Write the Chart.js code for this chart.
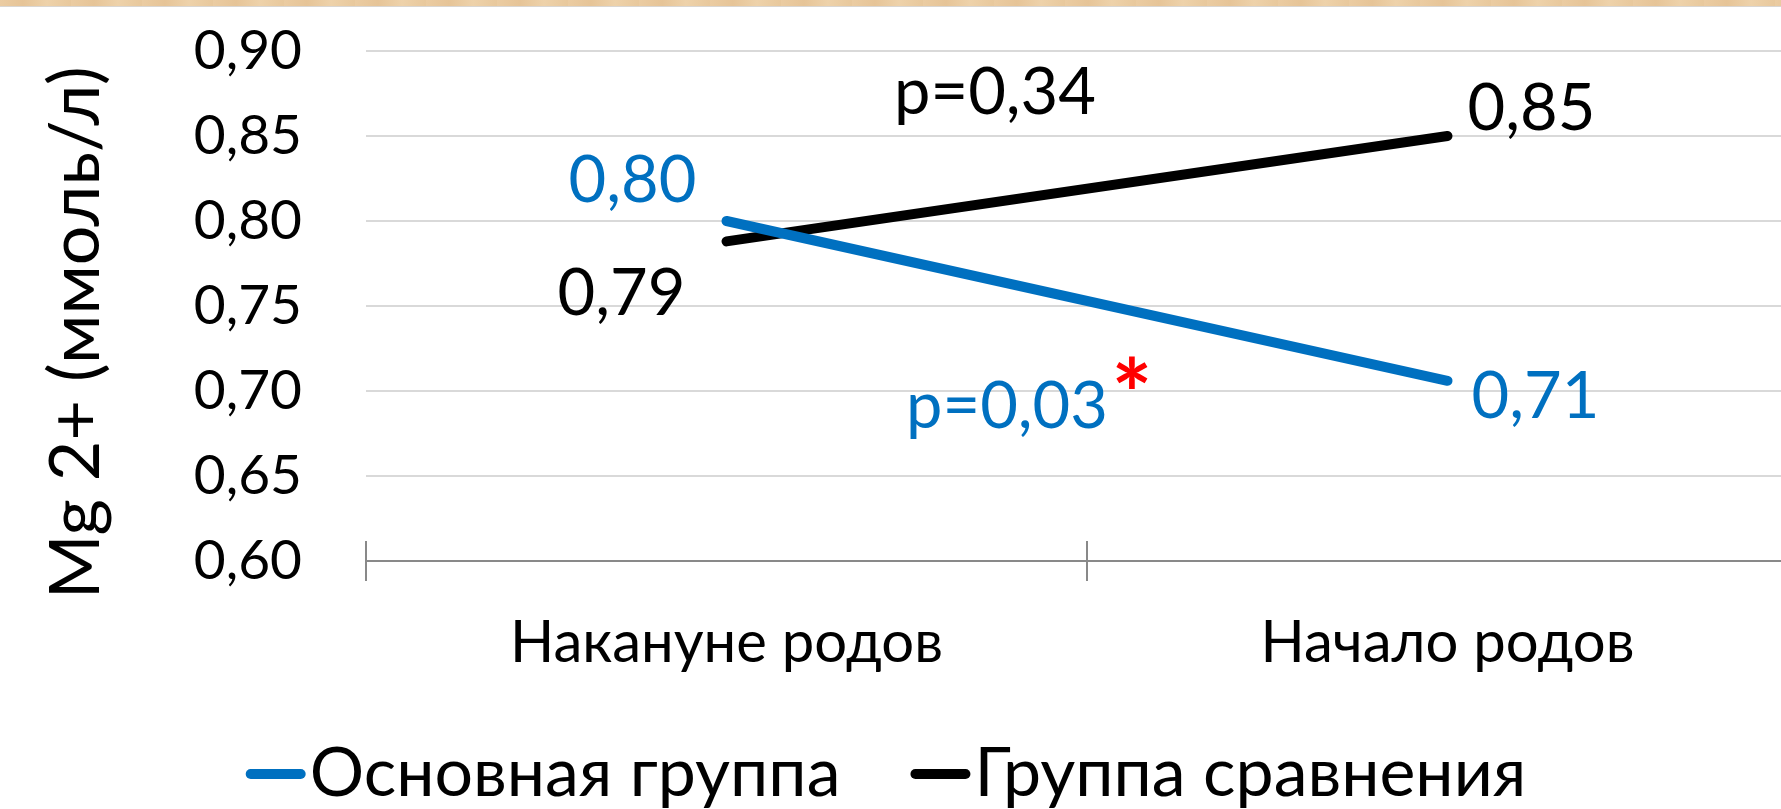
<!DOCTYPE html>
<html>
<head>
<meta charset="utf-8">
<script src="https://cdn.jsdelivr.net/npm/chart.js@4.4.1/dist/chart.umd.min.js"></script>
<style>
  html, body { margin:0; padding:0; overflow:hidden; background:#fff; width:1781px; height:809px; }
  #wrap { position:relative; width:1808px; height:809px; }
  #band { position:absolute; left:0; top:0; width:1781px; height:6px;
          background: repeating-linear-gradient(90deg, #ebcca2 0px, #e6c497 23px, #eed2aa 47px, #e8c89c 71px);
          border-bottom:1px solid #d9d6d2; }
  canvas { display:block; }
</style>
</head>
<body>
<div id="wrap">
  <canvas id="c" width="1808" height="809"></canvas>
  <div id="band"></div>
</div>
<script>
// ---- data ----
const categories = ['Накануне родов', 'Начало родов'];
const seriesNames = ['Основная группа', 'Группа сравнения'];
const mainGroup = [0.80, 0.706];
const comparisonGroup = [0.788, 0.85];
const pValueLabels = ['p=0,03', 'p=0,34'];
const yAxisTitle = 'Mg 2+ (ммоль/л)';
const yMin = 0.60, yMax = 0.90, yStep = 0.05;

// ---- style / layout ----
const FONT = "Lato, 'Open Sans', sans-serif";
const colors = ['#0070C0', '#000000'];
const axisGray = '#898989';
// value label offsets from each point: [dx, baseline dy]
const valueLabelOffsets = [[[-94, -19], [88, 37]], [[-105, 74], [84, -6]]];
// p-value label offsets from each line's midpoint
const pLabelOffsets = [[-80, 127], [-92, -75]];
const asteriskOffset = [45, 128]; // from main group's line midpoint

const fmt = v => Number(v).toFixed(2).replace('.', ',');

const tickUp = {
  id: 'tickUp',
  afterDraw(chart) {
    const x = chart.scales.x, ctx = chart.ctx;
    const n = x.getLabels().length;
    ctx.save();
    ctx.strokeStyle = axisGray; ctx.lineWidth = 2;
    for (let i = 0; i <= n; i++) {
      const px = Math.round(x.getPixelForDecimal(i / n));
      ctx.beginPath(); ctx.moveTo(px, x.top - 20); ctx.lineTo(px, x.top); ctx.stroke();
    }
    ctx.restore();
  }
};

const annotate = {
  id: 'annotate',
  afterDatasetsDraw(chart) {
    const ctx = chart.ctx;
    ctx.save();
    ctx.textAlign = 'center'; ctx.textBaseline = 'alphabetic';
    ctx.font = '65px ' + FONT;
    const mids = [];
    chart.data.datasets.forEach((ds, di) => {
      const pts = chart.getDatasetMeta(di).data;
      ctx.fillStyle = ds.borderColor;
      pts.forEach((pt, i) => {
        const o = valueLabelOffsets[di][i];
        ctx.fillText(fmt(ds.data[i]), pt.x + o[0], pt.y + o[1]);
      });
      const mx = (pts[0].x + pts[pts.length - 1].x) / 2;
      const my = (pts[0].y + pts[pts.length - 1].y) / 2;
      mids.push([mx, my]);
      ctx.fillText(pValueLabels[di], mx + pLabelOffsets[di][0], my + pLabelOffsets[di][1]);
    });
    ctx.fillStyle = '#FF0000';
    ctx.font = 'bold 96px ' + FONT;
    ctx.fillText('*', mids[0][0] + asteriskOffset[0], mids[0][1] + asteriskOffset[1]);
    ctx.restore();
  }
};

const customLegend = {
  id: 'customLegend',
  afterDraw(chart) {
    const ctx = chart.ctx;
    ctx.save();
    ctx.font = '68px ' + FONT;
    ctx.textAlign = 'left'; ctx.textBaseline = 'alphabetic';
    const items = chart.data.datasets.map(ds => ({ label: ds.label, color: ds.borderColor }));
    const lineLen = 60, gap = 4, itemGap = 70;
    const widths = items.map(it => lineLen + gap + ctx.measureText(it.label).width);
    const total = widths.reduce((a, b) => a + b, 0) + itemGap * (items.length - 1);
    let x = 886 - total / 2;
    const yLine = 774, yText = 796;
    items.forEach((it, i) => {
      ctx.strokeStyle = it.color; ctx.lineWidth = 10; ctx.lineCap = 'round';
      ctx.beginPath(); ctx.moveTo(x + 5, yLine); ctx.lineTo(x + lineLen - 5, yLine); ctx.stroke();
      ctx.fillStyle = '#000';
      ctx.fillText(it.label, x + lineLen + gap, yText);
      x += widths[i] + itemGap;
    });
    ctx.restore();
  }
};

new Chart(document.getElementById('c'), {
  type: 'line',
  data: {
    labels: categories,
    datasets: [
      { label: seriesNames[0], data: mainGroup, borderColor: colors[0], backgroundColor: colors[0],
        borderWidth: 10, borderCapStyle: 'round', pointRadius: 0, tension: 0 },
      { label: seriesNames[1], data: comparisonGroup, borderColor: colors[1], backgroundColor: colors[1],
        borderWidth: 10, borderCapStyle: 'round', pointRadius: 0, tension: 0 }
    ]
  },
  options: {
    responsive: false,
    animation: false,
    devicePixelRatio: 1,
    layout: { padding: { top: 51, left: 0, right: 0, bottom: 0 } },
    plugins: { legend: { display: false }, tooltip: { enabled: false } },
    scales: {
      x: {
        type: 'category',
        offset: true,
        grid: { display: true, drawOnChartArea: false, drawTicks: true, tickLength: 20, offset: true,
                color: axisGray, lineWidth: 2 },
        border: { display: true, color: axisGray, width: 2 },
        ticks: { font: { family: FONT, size: 58 }, color: '#000', padding: 27, maxRotation: 0, autoSkip: false },
        afterFit(s) { s.height = 248; s.paddingLeft = 0; s.paddingRight = 0; }
      },
      y: {
        min: yMin, max: yMax,
        ticks: { stepSize: yStep, font: { family: FONT, size: 55 }, color: '#000', padding: 64,
                 callback: v => fmt(v) },
        grid: { color: '#D9D9D9', lineWidth: 2, drawTicks: false },
        border: { display: false },
        title: { display: true, text: yAxisTitle + '   ', font: { family: FONT, size: 70 }, color: '#000',
                 padding: { top: 34, bottom: 0 } },
        afterFit(s) { s.width = 366; s.paddingTop = 0; s.paddingBottom = 0; }
      }
    }
  },
  plugins: [tickUp, annotate, customLegend]
});
</script>
</body>
</html>
